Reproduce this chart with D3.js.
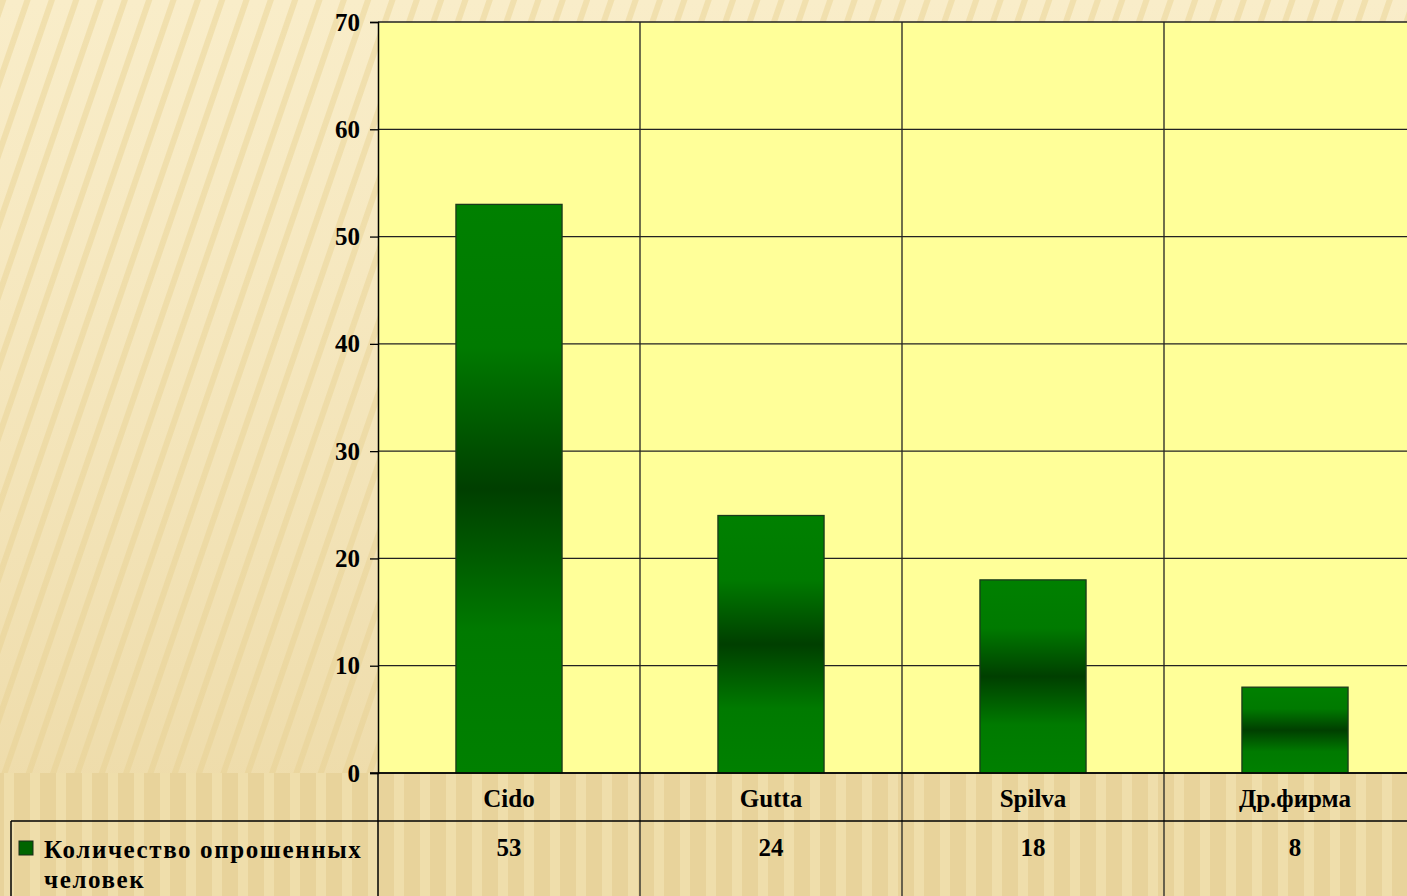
<!DOCTYPE html>
<html>
<head>
<meta charset="utf-8">
<script src="https://cdn.jsdelivr.net/npm/d3@7"></script>
<style>
  html, body { margin: 0; padding: 0; overflow: hidden; }
  svg { display: block; }
  text { font-family: "Liberation Serif", "DejaVu Serif", serif; font-weight: bold; fill: #000; }
</style>
</head>
<body>
<div id="chart"></div>
<script>
// Data
const categories = ['Cido', 'Gutta', 'Spilva', 'Др.фирма'];
const values = [53, 24, 18, 8];
const yTicks = [0, 10, 20, 30, 40, 50, 60, 70];
const seriesName = ['Количество опрошенных', 'человек'];

const width = 1407, height = 896;
const plot = { left: 378, right: 1426, top: 22, bottom: 773 };
const tableRow = 821;
const fontSize = 25;

const svg = d3.select('#chart').append('svg')
    .attr('width', width)
    .attr('height', height);

const defs = svg.append('defs');

// Background stripes
const diag = defs.append('pattern')
    .attr('id', 'diag')
    .attr('patternUnits', 'userSpaceOnUse')
    .attr('width', 23).attr('height', 40)
    .attr('patternTransform', 'rotate(19)');
diag.append('rect').attr('width', 23).attr('height', 40).attr('fill', '#f9edc9');
diag.append('rect').attr('x', 0).attr('width', 6).attr('height', 40).attr('fill', '#f1e0ae');

const vert = defs.append('pattern')
    .attr('id', 'vert')
    .attr('patternUnits', 'userSpaceOnUse')
    .attr('width', 26).attr('height', 40);
vert.append('rect').attr('width', 26).attr('height', 40).attr('fill', '#e8d39b');
vert.append('rect').attr('x', 4).attr('width', 10).attr('height', 40).attr('fill', '#efdeab');

const fade = defs.append('linearGradient')
    .attr('id', 'fade').attr('x1', 0).attr('y1', 0).attr('x2', 0).attr('y2', 1);
fade.append('stop').attr('offset', '0%').attr('stop-color', '#e9d49b').attr('stop-opacity', 0);
fade.append('stop').attr('offset', '100%').attr('stop-color', '#e4cc8e').attr('stop-opacity', 0.6);

// Bar gradient: light at ends, dark in the middle
const barGrad = defs.append('linearGradient')
    .attr('id', 'barGrad').attr('x1', 0).attr('y1', 0).attr('x2', 0).attr('y2', 1);
[['0%', '#008000'], ['25%', '#007a00'], ['50%', '#003f00'], ['75%', '#007a00'], ['100%', '#008000']]
    .forEach(([o, c]) => barGrad.append('stop').attr('offset', o).attr('stop-color', c));

svg.append('rect').attr('width', width).attr('height', height).attr('fill', 'url(#diag)');
svg.append('rect').attr('width', width).attr('height', height).attr('fill', 'url(#fade)');
svg.append('rect').attr('y', plot.bottom).attr('width', width).attr('height', height - plot.bottom)
    .attr('fill', 'url(#vert)');

// Scales
const x = d3.scaleBand(categories, [plot.left, plot.right]).paddingInner(0).paddingOuter(0);
const y = d3.scaleLinear([0, 70], [plot.bottom, plot.top]);

// Plot area
svg.append('rect')
    .attr('x', plot.left).attr('y', plot.top)
    .attr('width', plot.right - plot.left).attr('height', plot.bottom - plot.top)
    .attr('fill', '#ffff99');

// Horizontal gridlines
svg.append('g').selectAll('line')
    .data(yTicks)
    .join('line')
    .attr('x1', plot.left).attr('x2', plot.right)
    .attr('y1', d => y(d)).attr('y2', d => y(d))
    .attr('stroke', '#222').attr('stroke-width', 1.3);

// Y axis
const axisY = svg.append('g')
    .attr('transform', `translate(${plot.left},0)`)
    .call(d3.axisLeft(y).tickValues(yTicks).tickSize(8).tickPadding(10));
axisY.select('.domain').attr('stroke', '#000').attr('stroke-width', 1.5);
axisY.selectAll('.tick line').attr('stroke', '#000').attr('stroke-width', 1.3);
axisY.selectAll('.tick text')
    .attr('font-family', '"Liberation Serif", serif')
    .attr('font-weight', 'bold')
    .attr('font-size', fontSize)
    .attr('fill', '#000');

// Category separators (through the table)
svg.append('g').selectAll('line')
    .data(categories)
    .join('line')
    .attr('x1', d => x(d) + x.bandwidth()).attr('x2', d => x(d) + x.bandwidth())
    .attr('y1', plot.top).attr('y2', height)
    .attr('stroke', '#222').attr('stroke-width', 1.3);
svg.append('line')
    .attr('x1', plot.left).attr('x2', plot.left)
    .attr('y1', plot.bottom).attr('y2', height)
    .attr('stroke', '#000').attr('stroke-width', 1.5);

// Bars
const barW = x.bandwidth() * 0.405;
svg.append('g').selectAll('rect')
    .data(values)
    .join('rect')
    .attr('x', (d, i) => x(categories[i]) + (x.bandwidth() - barW) / 2)
    .attr('y', d => y(d))
    .attr('width', barW)
    .attr('height', d => y(0) - y(d))
    .attr('fill', 'url(#barGrad)')
    .attr('stroke', '#1a3a1a').attr('stroke-width', 1.3);

// Table lines
svg.append('line')
    .attr('x1', 11).attr('x2', plot.right)
    .attr('y1', tableRow).attr('y2', tableRow)
    .attr('stroke', '#000').attr('stroke-width', 1.5);
svg.append('line')
    .attr('x1', 11).attr('x2', 11)
    .attr('y1', tableRow).attr('y2', height)
    .attr('stroke', '#000').attr('stroke-width', 1.5);
svg.append('line')
    .attr('x1', plot.left - 8).attr('x2', plot.right)
    .attr('y1', plot.bottom).attr('y2', plot.bottom)
    .attr('stroke', '#000').attr('stroke-width', 1.5);

// Category labels
svg.append('g').selectAll('text')
    .data(categories)
    .join('text')
    .attr('x', d => x(d) + x.bandwidth() / 2)
    .attr('y', 807)
    .attr('text-anchor', 'middle')
    .attr('font-size', fontSize)
    .text(d => d);

// Values row
svg.append('g').selectAll('text')
    .data(values)
    .join('text')
    .attr('x', (d, i) => x(categories[i]) + x.bandwidth() / 2)
    .attr('y', 856)
    .attr('text-anchor', 'middle')
    .attr('font-size', fontSize)
    .text(d => d);

// Legend key
svg.append('rect')
    .attr('x', 19).attr('y', 841).attr('width', 14).attr('height', 14)
    .attr('fill', '#006400').attr('stroke', '#1a2a1a').attr('stroke-width', 1);
svg.append('text')
    .attr('x', 44).attr('y', 858)
    .attr('font-size', fontSize)
    .attr('letter-spacing', 1.6)
    .text(seriesName[0]);
svg.append('text')
    .attr('x', 44).attr('y', 888)
    .attr('font-size', fontSize)
    .attr('letter-spacing', 1.6)
    .text(seriesName[1]);
</script>
</body>
</html>
